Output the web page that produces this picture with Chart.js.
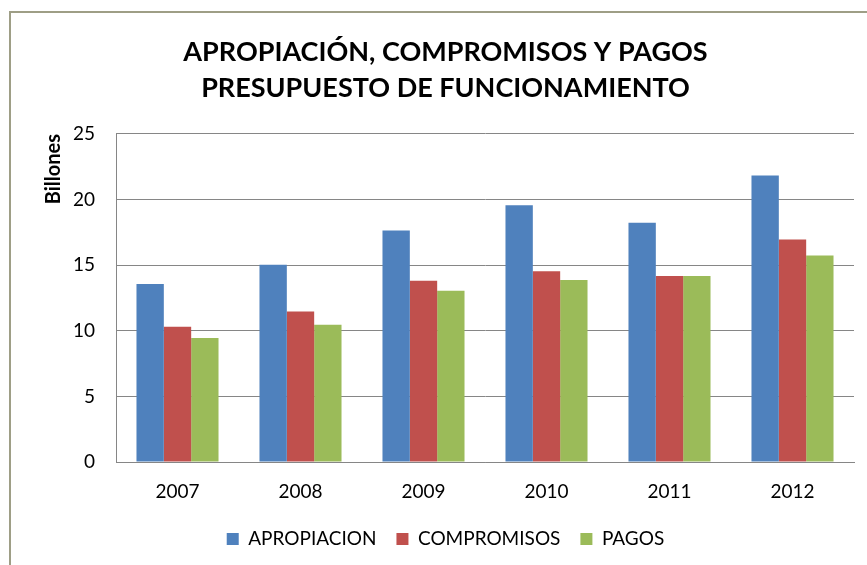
<!DOCTYPE html>
<html>
<head>
<meta charset="utf-8">
<script src="https://cdn.jsdelivr.net/npm/chart.js@4.4.1/dist/chart.umd.min.js"></script>
<style>
  html, body { margin: 0; padding: 0; background: #ffffff; }
  #wrap { width: 867px; height: 565px; position: relative; }
</style>
</head>
<body>
<div id="wrap"><canvas id="c" width="867" height="565"></canvas></div>
<script>
const categories = ['2007', '2008', '2009', '2010', '2011', '2012'];
const apropiacion = [13.56, 15.04, 17.65, 19.56, 18.23, 21.83];
const compromisos = [10.30, 11.47, 13.82, 14.53, 14.17, 16.96];
const pagos = [9.45, 10.47, 13.05, 13.87, 14.17, 15.73];
const titleLines = ['APROPIACIÓN, COMPROMISOS Y PAGOS', 'PRESUPUESTO DE FUNCIONAMIENTO'];
const yAxisTitle = 'Billones';
const seriesNames = ['APROPIACION', 'COMPROMISOS', 'PAGOS'];

const frame = {
  id: 'frame',
  beforeDraw(chart) {
    const ctx = chart.ctx;
    ctx.save();
    ctx.fillStyle = '#ffffff';
    ctx.fillRect(0, 0, chart.width, chart.height);
    ctx.strokeStyle = '#9e9e86';
    ctx.lineWidth = 2;
    ctx.strokeRect(10, 12, chart.width + 20, chart.height + 20);
    ctx.restore();
  }
};

const FONT = 'Lato, "Open Sans", sans-serif';

new Chart(document.getElementById('c'), {
  type: 'bar',
  data: {
    labels: categories,
    datasets: [
      { label: seriesNames[0], data: apropiacion, backgroundColor: '#4F81BD' },
      { label: seriesNames[1], data: compromisos, backgroundColor: '#C0504D' },
      { label: seriesNames[2], data: pagos, backgroundColor: '#9BBB59' }
    ]
  },
  options: {
    responsive: false,
    animation: false,
    devicePixelRatio: 1,
    layout: { padding: { left: 37, right: 13, top: 0, bottom: 6.5 } },
    datasets: { bar: { categoryPercentage: 0.667, barPercentage: 1.0, borderWidth: 0 } },
    plugins: {
      title: {
        display: true,
        text: titleLines,
        color: '#000000',
        font: { family: FONT, size: 27, weight: 'bold', lineHeight: 1.333 },
        padding: { top: 34, bottom: 28 }
      },
      legend: {
        position: 'bottom',
        labels: {
          color: '#000000',
          font: { family: FONT, size: 19 },
          boxWidth: 12,
          boxHeight: 12,
          padding: 20
        }
      },
      tooltip: { enabled: false }
    },
    scales: {
      x: {
        grid: { display: false, drawTicks: false },
        border: { display: true, color: '#868686', width: 1 },
        ticks: { color: '#000000', font: { family: FONT, size: 19 }, padding: 18 },
        afterFit(scale) { scale.height = 47.5; }
      },
      y: {
        min: 0,
        max: 25,
        ticks: { stepSize: 5, color: '#000000', font: { family: FONT, size: 19 }, padding: 21 },
        grid: { color: '#868686', lineWidth: 1, drawTicks: false },
        border: { display: true, color: '#868686', width: 1 },
        title: {
          display: true,
          text: yAxisTitle,
          align: 'end',
          color: '#000000',
          font: { family: FONT, size: 20, weight: 'bold', lineHeight: 1.2 },
          padding: { top: 5, bottom: 0 }
        },
        afterFit(scale) { scale.width = 79; }
      }
    }
  },
  plugins: [frame]
});
</script>
</body>
</html>
